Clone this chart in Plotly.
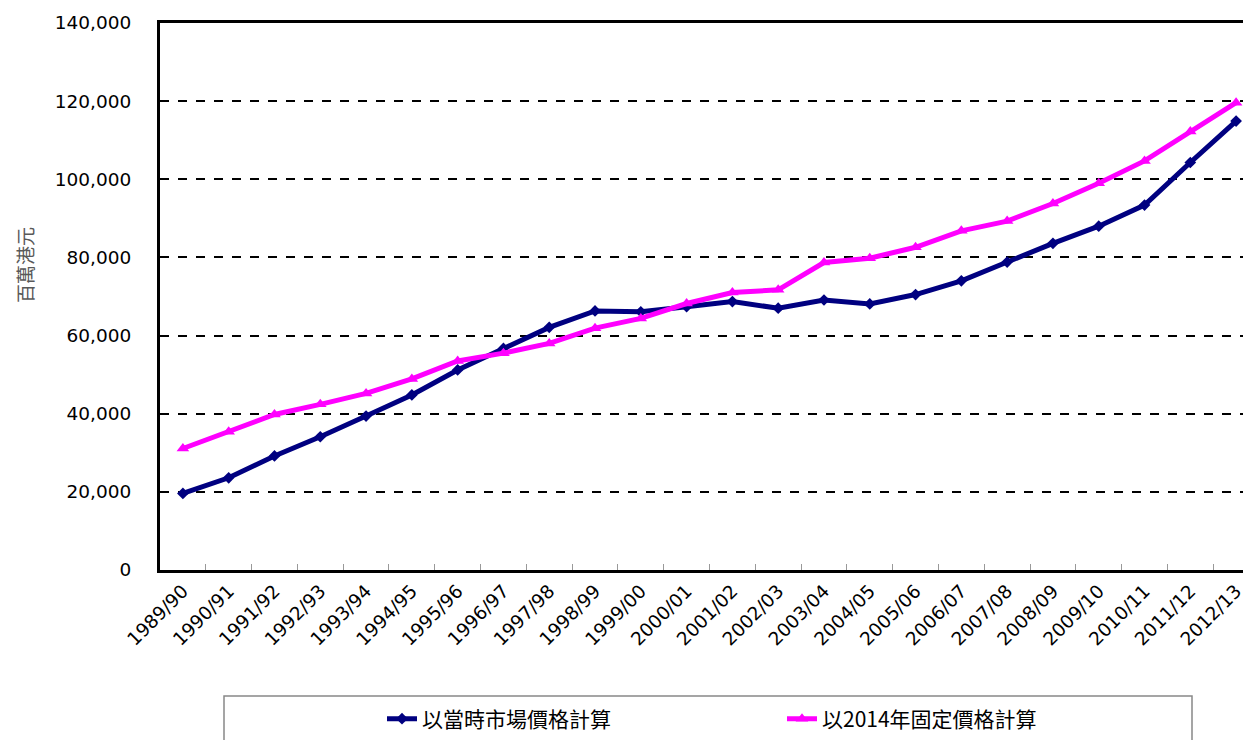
import plotly.graph_objects as go

years = ["1989/90", "1990/91", "1991/92", "1992/93", "1993/94", "1994/95", "1995/96",
         "1996/97", "1997/98", "1998/99", "1999/00", "2000/01", "2001/02", "2002/03",
         "2003/04", "2004/05", "2005/06", "2006/07", "2007/08", "2008/09", "2009/10",
         "2010/11", "2011/12", "2012/13"]
current_prices = [19600, 23600, 29200, 34100, 39400, 44800, 51200, 56700, 62100, 66300,
                  66100, 67400, 68700, 67000, 69100, 68100, 70500, 74000, 78800, 83600,
                  88000, 93400, 104300, 114900]
constant_2014 = [31100, 35400, 39800, 42400, 45200, 48900, 53500, 55500, 58000, 61900,
                 64400, 68200, 71000, 71700, 78700, 79800, 82600, 86800, 89300, 93800,
                 99000, 104700, 112200, 119600]
name_current = "以當時市場價格計算"
name_constant = "以2014年固定價格計算"
y_title = "百萬港元"
y_ticks = [0, 20000, 40000, 60000, 80000, 100000, 120000, 140000]
y_ticktext = ["0", "20,000", "40,000", "60,000", "80,000", "100,000", "120,000", "140,000"]

OFF = 8  # page offset of the figure inside the browser
W, H = 1251, 740
# target page coordinates of the plot area
PL, PT, PB = 160, 23, 570
L = PL - OFF
T = PT - OFF
B = H - (PB - OFF)
R = 0
pw, ph = W - L - R, H - T - B

fig = go.Figure()
fig.add_trace(go.Scatter(x=years, y=current_prices, name=name_current, mode="lines+markers",
                         line=dict(color="#000080", width=5),
                         marker=dict(symbol="diamond", size=9, color="#000080")))
fig.add_trace(go.Scatter(x=years, y=constant_2014, name=name_constant, mode="lines+markers",
                         line=dict(color="#FF00FF", width=5),
                         marker=dict(symbol="triangle-up", size=11, color="#FF00FF")))

def py(page_y):
    return (PB - page_y) / ph

def pxx(page_x):
    return (page_x - PL) / pw

fig.add_shape(type="rect", xref="paper", yref="paper",
              x0=pxx(224), x1=pxx(1192), y0=py(770), y1=py(696),
              line=dict(color="#888888", width=1.5), fillcolor="rgba(0,0,0,0)")

fig.add_annotation(text=y_title, xref="paper", yref="paper", x=pxx(24), y=py(265),
                   textangle=-90, showarrow=False, xanchor="center", yanchor="middle",
                   font=dict(family="Noto Sans CJK TC", size=19, color="#595959"))

fig.update_layout(
    width=W, height=H,
    margin=dict(l=L, r=R, t=T, b=B, autoexpand=False),
    paper_bgcolor="white", plot_bgcolor="white",
    showlegend=True,
    legend=dict(orientation="h", x=pxx(382), y=py(719), xanchor="left", yanchor="middle",
                entrywidth=355, entrywidthmode="pixels",
                font=dict(family="Noto Sans CJK TC", size=21, color="#000000"),
                bgcolor="rgba(0,0,0,0)"),
    xaxis=dict(type="category", range=[-0.5, 23.5],
               showline=True, linecolor="black", linewidth=3, mirror=True,
               showgrid=False, ticks="inside", ticklen=6, tickcolor="#999999",
               tickson="boundaries", tickangle=-45,
               tickfont=dict(family="DejaVu Sans", size=18.5, color="black")),
    yaxis=dict(range=[0, 140000], tickvals=y_ticks, ticktext=y_ticktext,
               showline=True, linecolor="black", linewidth=3,
               showgrid=True, gridcolor="black", gridwidth=2, griddash="dash",
               zeroline=False, ticks="", ticklabelstandoff=22,
               tickfont=dict(family="DejaVu Sans", size=18.5, color="black")),
)

fig.write_html("out.html")
